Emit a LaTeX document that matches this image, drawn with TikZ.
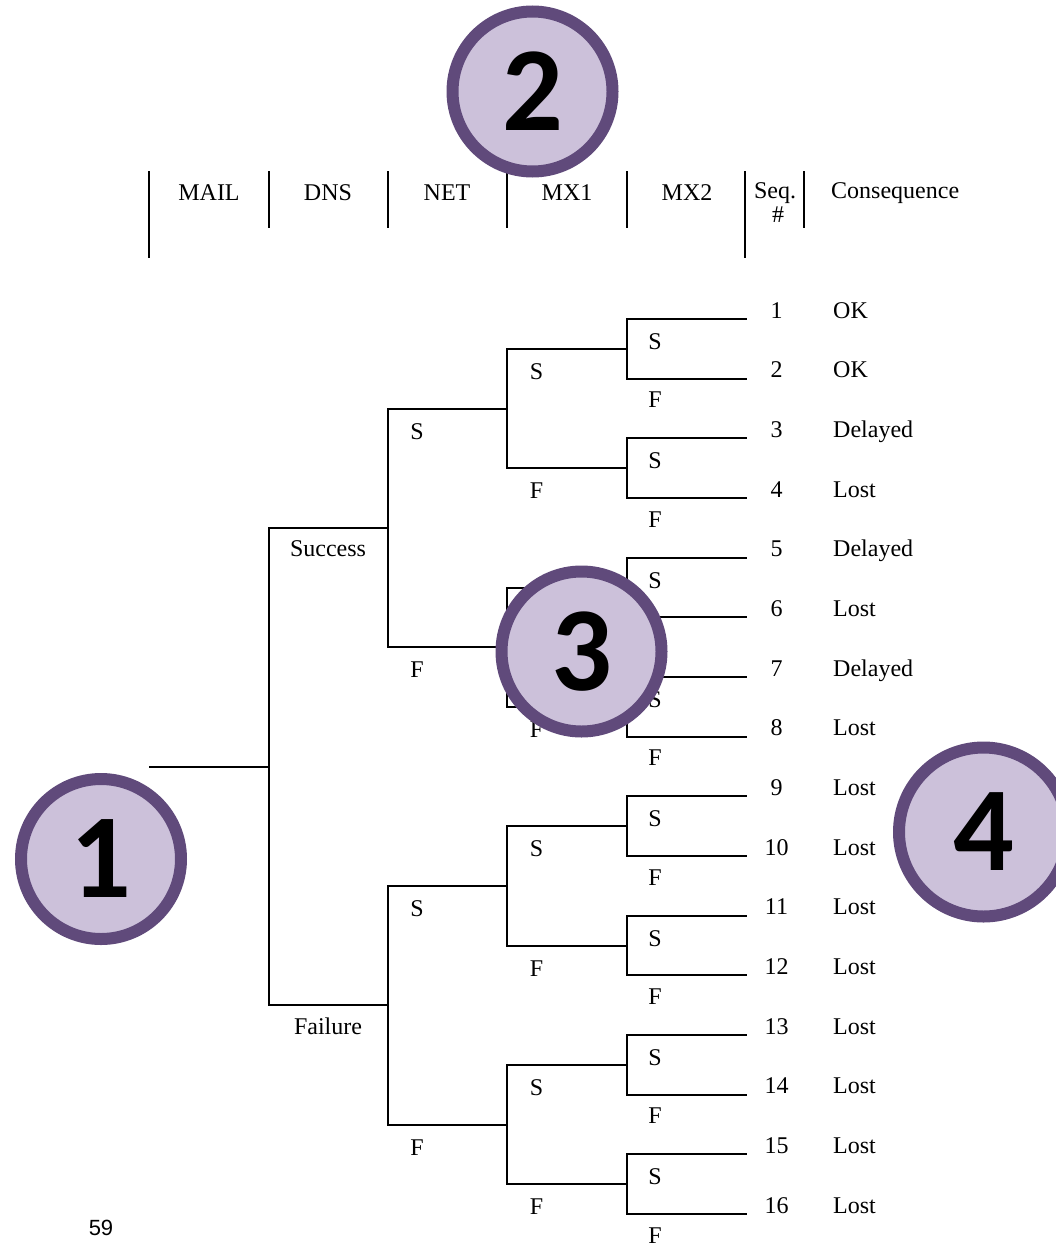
\documentclass[tikz,border=0pt]{standalone}
\usepackage{fontspec}
\setmainfont{Liberation Serif}
\newfontfamily\badgefont{Carlito}
\newfontfamily\pagefont{Liberation Sans}
\definecolor{badgeedge}{HTML}{604A7B}
\definecolor{badgefill}{HTML}{CCC1DA}
\tikzset{
  branch/.style={draw=black, line width=2pt},
  hdrline/.style={draw=black, line width=2pt},
  lbl/.style={font=\fontsize{24}{24}\selectfont, inner sep=0pt, anchor=base},
  conseq/.style={font=\fontsize{24}{24}\selectfont, inner sep=0pt, anchor=base west},
  badge/.style={circle, draw=badgeedge, fill=badgefill, line width=12pt, inner sep=0pt,
    minimum size=160pt, font=\badgefont\bfseries\fontsize{120}{120}\selectfont},
  pagenum/.style={font=\pagefont\fontsize{22}{22}\selectfont, inner sep=0pt, anchor=base}
}
\begin{document}
\begin{tikzpicture}[x=1pt,y=-1pt]
\useasboundingbox (0,0) rectangle (1056,1244);
\def\dd{59.67}
% header
\draw[hdrline] (149,171) -- (149,258);
\draw[hdrline] (269,171) -- (269,228);
\draw[hdrline] (388,171) -- (388,228);
\draw[hdrline] (506.5,171) -- (506.5,228);
\draw[hdrline] (627,171) -- (627,228);
\draw[hdrline] (744.5,171) -- (744.5,258);
\draw[hdrline] (804,171) -- (804,228);
\node[lbl] (hmail) at (209,200) {MAIL};
\node[lbl] (hdns) at (328,200) {DNS};
\node[lbl] (hnet) at (447,200) {NET};
\node[lbl] (hmx1) at (567,200) {MX1};
\node[lbl] (hmx2) at (687,200) {MX2};
\node[lbl] (hseq) at (775,198) {Seq.};
\node[lbl] (hnum) at (778,222) {\#};
\node[conseq] (hcon) at (831,198) {Consequence};
% coordinates
\foreach \i in {1,...,16} {
  \pgfmathsetmacro\yy{319+(\i-1)*\dd}
  \coordinate (leaf\i) at (746.5,\yy);
}
\foreach \k in {1,...,8} {
  \pgfmathsetmacro\yy{319+(2*\k-1.5)*\dd}
  \coordinate (mx\k) at (627,\yy);
}
\foreach \k in {1,...,4} {
  \pgfmathsetmacro\yy{319+(4*\k-2.5)*\dd}
  \coordinate (net\k) at (506.5,\yy);
}
\foreach \k in {1,2} {
  \pgfmathsetmacro\yy{319+(8*\k-4.5)*\dd}
  \coordinate (dns\k) at (388,\yy);
}
\pgfmathsetmacro\ym{319+7.5*\dd}
\coordinate (mail) at (269,\ym);
\coordinate (start) at (149,\ym);
% connectors
\draw[branch] (start) -- (mail);
\draw[branch] (mail) |- (dns1);
\draw[branch] (mail) |- (dns2);
\path (mail |- dns1) ++(59,29) node[lbl] (lsucc) {Success};
\path (mail |- dns2) ++(59,29) node[lbl] (lfail) {Failure};
\foreach \k in {1,2} {
  \pgfmathtruncatemacro\a{2*\k-1}
  \pgfmathtruncatemacro\b{2*\k}
  \draw[branch] (dns\k) |- (net\a);
  \draw[branch] (dns\k) |- (net\b);
  \path (dns\k |- net\a) ++(29,30.5) node[lbl] (ldnsS\k) {S};
  \path (dns\k |- net\b) ++(29,30.5) node[lbl] (ldnsF\k) {F};
}
\foreach \k in {1,...,4} {
  \pgfmathtruncatemacro\a{2*\k-1}
  \pgfmathtruncatemacro\b{2*\k}
  \draw[branch] (net\k) |- (mx\a);
  \draw[branch] (net\k) |- (mx\b);
  \path (net\k |- mx\a) ++(30,30.5) node[lbl] (lnetS\k) {S};
  \path (net\k |- mx\b) ++(30,30.5) node[lbl] (lnetF\k) {F};
}
\foreach \k in {1,...,8} {
  \pgfmathtruncatemacro\a{2*\k-1}
  \pgfmathtruncatemacro\b{2*\k}
  \draw[branch] (mx\k) |- (leaf\a);
  \draw[branch] (mx\k) |- (leaf\b);
  \path (mx\k |- leaf\a) ++(28,30.5) node[lbl] (lmxS\k) {S};
  \path (mx\k |- leaf\b) ++(28,29) node[lbl] (lmxF\k) {F};
}
% leaf labels
\foreach \i/\c in {1/OK,2/OK,3/Delayed,4/Lost,5/Delayed,6/Lost,7/Delayed,8/Lost,
  9/Lost,10/Lost,11/Lost,12/Lost,13/Lost,14/Lost,15/Lost,16/Lost} {
  \path (leaf\i) ++(30,-1) node[lbl] (num\i) {\i};
  \path (leaf\i) ++(86.5,-1) node[conseq] (con\i) {\c};
}
% badges
\node[badge] (b2) at (532.5,91.5) {2};
\node[badge] (b3) at (581.5,651.5) {3};
\node[badge] (b1) at (101,859) {1};
\node[badge, minimum size=169pt] (b4) at (983.5,832) {4};
\node[pagenum] (pg) at (101,1235) {59};
\end{tikzpicture}
\end{document}
